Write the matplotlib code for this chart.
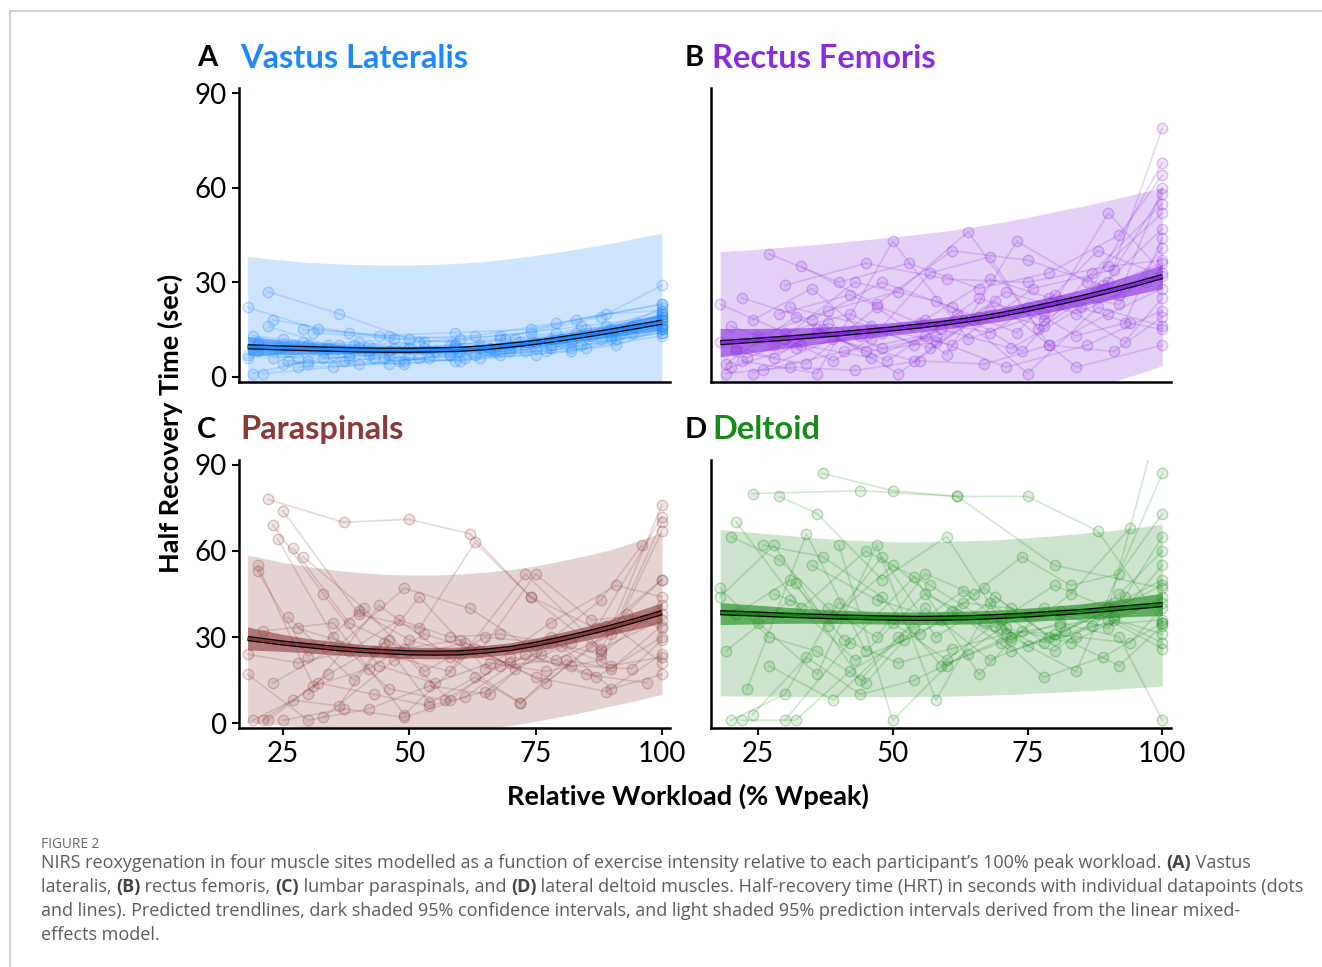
"""Half-recovery time vs relative workload for four muscle sites."""

import matplotlib.pyplot as plt
from matplotlib.lines import Line2D
from matplotlib.colors import to_rgb

plt.rcParams["font.family"] = ["Lato", "DejaVu Sans"]

# model curves are read at these workloads
FIT_X = [18, 25, 30, 35, 40, 45, 50, 55, 60, 65, 70, 75, 80, 85, 90, 95, 100]

# ---- A: vastus lateralis
VL_FIT = [9.5, 9.1, 8.9, 8.7, 8.5, 8.4, 8.4, 8.5, 8.7, 9.2, 10.0, 10.9, 12.0, 13.2, 14.5, 15.9, 17.3]
VL_CI_LO = [6.8, 7.0, 7.1, 7.2, 7.3, 7.4, 7.4, 7.5, 7.7, 8.2, 8.8, 9.6, 10.6, 11.6, 12.6, 13.7, 14.8]
VL_CI_HI = [12.8, 11.6, 10.9, 10.3, 9.8, 9.6, 9.5, 9.6, 9.8, 10.3, 11.2, 12.3, 13.5, 14.9, 16.4, 18.1, 19.9]
VL_PI_LO = [-19, -19.3, -19.5, -19.5, -19.5, -19.5, -19.5, -19.3, -19, -18.6, -18, -17, -16, -15, -14, -12.5, -11]
VL_PI_HI = [38.2, 37.0, 36.3, 35.9, 35.6, 35.5, 35.5, 35.7, 36.0, 36.6, 37.5, 38.5, 39.7, 41.0, 42.4, 44.0, 45.6]
VL_X = [
    [18, 32, 46, 60, 74, 88, 100], [22, 36, 50, 64, 78, 92, 100],
    [19, 30, 42, 54, 66, 78, 90, 100], [21, 35, 49, 63, 77, 91, 100],
    [23, 38, 53, 68, 83, 100], [20, 33, 46, 59, 72, 85, 100],
    [25, 40, 55, 70, 85, 100], [26, 40, 54, 68, 82, 100],
    [18, 28, 38, 48, 58, 68, 78, 88, 100], [29, 44, 59, 74, 89, 100],
    [22, 34, 46, 58, 70, 82, 94, 100], [27, 43, 59, 75, 91, 100],
    [31, 47, 63, 79, 100], [20, 31, 42, 53, 64, 75, 86, 100],
    [33, 50, 67, 84, 100], [25, 37, 49, 61, 73, 85, 100],
    [19, 29, 39, 49, 59, 69, 79, 89, 100], [28, 46, 64, 82, 100],
    [23, 35, 47, 59, 71, 83, 95], [36, 52, 68, 84, 100],
    [18, 26, 34, 42, 50, 58, 66, 74, 82, 90, 100], [20, 30, 40, 50, 60, 70, 80, 90, 100],
    [24, 38, 52, 66, 80, 94, 100], [30, 45, 60, 75, 90, 100],
]
VL_Y = [
    [22, 15, 13, 12, 14, 19, 29], [27, 20, 12, 10, 12, 14, 18],
    [1, 5, 7, 8, 9, 10, 13, 17], [1, 3, 5, 7, 8, 12, 15],
    [18, 14, 11, 12, 18, 23], [8, 8, 7, 9, 11, 15, 19],
    [12, 9, 8, 10, 13, 16], [5, 4, 6, 7, 9, 14],
    [7, 6, 6, 5, 7, 8, 9, 12, 16], [15, 13, 14, 15, 20, 21],
    [16, 10, 8, 7, 8, 11, 14, 18], [10, 6, 5, 7, 10, 15],
    [14, 12, 13, 17, 23], [10, 9, 10, 9, 9, 11, 13, 20],
    [6, 7, 8, 10, 14], [4, 5, 4, 6, 8, 9, 13],
    [13, 11, 10, 9, 10, 12, 14, 16, 21], [3, 4, 6, 8, 15],
    [6, 7, 9, 10, 12, 14, 17], [10, 11, 13, 16, 19],
    [6, 8, 9, 8, 9, 10, 9, 11, 12, 15, 18], [11, 10, 11, 9, 8, 9, 11, 14, 22],
    [9, 7, 6, 8, 12, 16, 20], [4, 6, 5, 9, 12, 16],
]

# ---- B: rectus femoris
RF_FIT = [10.8, 11.6, 12.2, 12.9, 13.6, 14.4, 15.2, 16.1, 17.1, 18.3, 19.7, 21.4, 23.2, 25.1, 27.2, 29.4, 31.8]
RF_CI_LO = [6.3, 7.9, 9.0, 10.2, 11.2, 12.2, 13.2, 14.2, 15.2, 16.3, 17.6, 19.1, 20.8, 22.5, 24.3, 26.1, 28.0]
RF_CI_HI = [15.3, 15.3, 15.4, 15.6, 16.0, 16.6, 17.2, 18.0, 19.0, 20.3, 21.8, 23.7, 25.6, 27.7, 30.1, 32.7, 35.6]
RF_PI_LO = [-18, -17.3, -16.8, -16.2, -15.5, -14.8, -14, -13, -12, -10.8, -9.5, -7.8, -6, -4, -2, 0.6, 3.5]
RF_PI_HI = [39.7, 40.5, 41.2, 41.9, 42.7, 43.5, 44.4, 45.3, 46.3, 47.6, 49.0, 50.6, 52.4, 54.1, 56.0, 58.0, 60.2]
RF_X = [
    [18, 30, 42, 54, 66, 78, 90, 100], [20, 33, 46, 59, 72, 85, 100],
    [27, 40, 53, 66, 79, 92, 100], [22, 36, 50, 64, 78, 92, 100],
    [25, 38, 51, 64, 77, 90, 100], [19, 31, 43, 55, 67, 79, 91, 100],
    [24, 35, 46, 57, 68, 79, 90, 100], [21, 34, 47, 60, 73, 86, 100],
    [30, 45, 60, 75, 90, 100], [23, 37, 51, 65, 79, 93, 100],
    [18, 28, 38, 48, 58, 68, 78, 88, 100], [26, 41, 56, 71, 86, 100],
    [29, 42, 55, 68, 81, 94, 100], [20, 32, 44, 56, 68, 80, 92, 100],
    [33, 47, 61, 75, 89, 100], [24, 39, 54, 69, 84, 100],
    [22, 35, 48, 61, 74, 87, 100], [28, 43, 58, 73, 88, 100],
    [19, 32, 45, 58, 71, 84, 97], [36, 49, 62, 75, 88, 100],
    [21, 30, 39, 48, 57, 66, 75, 84, 93, 100], [31, 46, 61, 76, 91, 100],
]
RF_Y = [
    [23, 14, 20, 10, 25, 18, 30, 79], [3, 10, 6, 15, 9, 22, 68],
    [39, 30, 36, 28, 33, 45, 64], [5, 1, 43, 12, 20, 26, 60],
    [13, 21, 27, 46, 15, 52, 33], [1, 3, 2, 5, 4, 10, 8, 19],
    [18, 28, 12, 33, 38, 10, 20, 28], [8, 4, 22, 7, 43, 30, 52],
    [29, 36, 31, 30, 35, 37], [6, 15, 1, 18, 25, 11, 25],
    [11, 6, 17, 9, 13, 21, 16, 28, 36], [2, 8, 13, 3, 10, 21],
    [20, 26, 17, 31, 24, 17, 15], [16, 9, 13, 18, 14, 26, 23, 41],
    [35, 23, 40, 37, 29, 47], [1, 12, 5, 24, 3, 10],
    [25, 18, 30, 22, 8, 33, 55], [10, 30, 24, 14, 40, 32],
    [4, 19, 8, 11, 27, 20, 30], [15, 5, 20, 1, 22, 16],
    [9, 12, 5, 14, 9, 19, 22, 13, 17, 44], [22, 16, 10, 28, 34, 58],
]

# ---- C: paraspinals
PS_FIT = [29.5, 27.9, 27.0, 26.1, 25.4, 24.9, 24.5, 24.4, 24.5, 25.1, 26.0, 27.5, 29.3, 31.3, 33.5, 35.9, 38.5]
PS_CI_LO = [25.5, 25.0, 24.5, 23.8, 23.3, 22.9, 22.5, 22.4, 22.5, 23.1, 24.0, 25.4, 27.0, 28.9, 30.8, 32.8, 35.0]
PS_CI_HI = [33.5, 30.9, 29.5, 28.4, 27.5, 26.9, 26.5, 26.4, 26.5, 27.1, 28.0, 29.6, 31.6, 33.7, 36.2, 39.0, 42.0]
PS_PI_LO = [0.3, -0.7, -1.5, -2.1, -2.5, -2.7, -2.8, -2.7, -2.5, -1.8, -0.8, 0.6, 2.3, 4.0, 6.0, 7.9, 10.0]
PS_PI_HI = [58.6, 56.0, 54.5, 53.4, 52.5, 51.9, 51.6, 51.6, 52.0, 52.6, 53.5, 54.8, 56.5, 58.4, 60.5, 63.3, 66.5]
PS_X = [
    [22, 37, 50, 62, 74, 88, 100], [25, 40, 52, 63, 74, 87, 100],
    [23, 33, 44, 55, 66, 77, 88, 100], [24, 35, 46, 57, 68, 79, 90, 100],
    [27, 38, 49, 60, 71, 82, 93, 100], [29, 41, 53, 65, 77, 89, 100],
    [20, 31, 42, 53, 64, 75, 86, 100], [20, 30, 40, 50, 60, 70, 80, 90, 100],
    [19, 27, 36, 45, 54, 63, 72, 81, 90, 100], [21, 32, 43, 54, 65, 76, 87, 100],
    [22, 34, 46, 58, 70, 82, 94, 100], [18, 30, 42, 54, 66, 78, 90, 100],
    [25, 37, 49, 61, 73, 85, 97], [18, 28, 38, 48, 58, 68, 78, 88, 100],
    [26, 39, 52, 65, 78, 91, 100], [30, 44, 58, 72, 86, 100],
    [33, 47, 61, 75, 89, 100], [23, 36, 49, 62, 75, 88, 96],
    [28, 43, 58, 73, 88, 100], [21, 35, 49, 63, 77, 91, 100],
]
PS_Y = [
    [78, 70, 71, 66, 44, 25, 76], [74, 38, 33, 63, 44, 33, 72],
    [69, 45, 20, 14, 21, 18, 22, 67], [64, 30, 12, 8, 20, 22, 31, 70],
    [61, 35, 26, 29, 19, 28, 38, 33], [58, 40, 18, 30, 28, 34, 50],
    [55, 13, 19, 31, 25, 52, 36, 38], [53, 23, 39, 29, 24, 21, 27, 20, 23],
    [1, 8, 6, 28, 7, 16, 7, 22, 19, 34], [1, 14, 10, 6, 11, 24, 16, 30],
    [1, 17, 29, 8, 23, 20, 19, 29], [17, 1, 5, 13, 10, 30, 12, 17],
    [1, 5, 2, 9, 24, 17, 14], [24, 21, 25, 36, 30, 31, 28, 24, 41],
    [37, 15, 44, 19, 35, 48, 44], [10, 41, 23, 7, 27, 50],
    [2, 22, 28, 16, 11, 24], [14, 27, 47, 40, 25, 43, 62],
    [33, 25, 18, 52, 26, 36], [32, 35, 3, 26, 14, 33, 21],
]

# ---- D: deltoid
DT_FIT = [38.5, 38.0, 37.6, 37.3, 37.0, 36.8, 36.6, 36.5, 36.6, 36.8, 37.2, 37.7, 38.3, 38.9, 39.7, 40.5, 41.3]
DT_CI_LO = [34.3, 34.6, 34.8, 34.8, 34.7, 34.6, 34.5, 34.4, 34.4, 34.6, 35.0, 35.4, 35.9, 36.3, 36.8, 37.2, 37.5]
DT_CI_HI = [42.0, 41.1, 40.4, 39.8, 39.4, 39.0, 38.8, 38.7, 38.9, 39.1, 39.5, 40.1, 40.8, 41.6, 42.6, 43.9, 45.3]
DT_PI_LO = [9.5, 9.4, 9.3, 9.2, 9.2, 9.2, 9.2, 9.3, 9.4, 9.6, 9.9, 10.3, 10.7, 11.2, 11.7, 12.3, 12.9]
DT_PI_HI = [67.5, 66.3, 65.5, 64.7, 64.0, 63.5, 63.2, 63.2, 63.3, 63.6, 64.0, 64.6, 65.3, 66.1, 67.0, 68.1, 69.3]
DT_X = [
    [37, 50, 62, 75, 88, 100], [24, 44, 62, 80, 100],
    [29, 36, 48, 60, 72, 84, 100], [20, 29, 38, 47, 56, 65, 74, 83, 92, 100],
    [18, 27, 36, 45, 54, 63, 72, 81, 90, 100], [20, 30, 40, 50, 60, 70, 80, 90, 100],
    [22, 32, 42, 52, 62, 72, 82, 92, 100], [24, 34, 44, 54, 64, 74, 84, 94, 100],
    [26, 37, 48, 59, 70, 81, 92, 100], [18, 28, 38, 48, 58, 68, 78, 88, 100],
    [21, 33, 45, 57, 69, 81, 93, 100], [23, 34, 45, 56, 67, 78, 89, 100],
    [30, 42, 54, 66, 78, 90, 100], [19, 31, 43, 55, 67, 79, 91, 100],
    [27, 39, 51, 63, 75, 87, 100], [35, 47, 59, 71, 83, 100],
    [25, 36, 47, 58, 69, 80, 91, 100], [32, 44, 56, 68, 80, 92, 100],
    [21, 31, 41, 51, 61, 71, 81, 91, 100], [40, 50, 60, 70, 80, 90, 100],
    [28, 39, 50, 61, 72, 83, 94],
]
DT_Y = [
    [87, 81, 79, 79, 67, 35], [80, 81, 79, 55, 47],
    [79, 73, 50, 65, 30, 18, 87], [65, 57, 40, 30, 52, 45, 58, 48, 52, 73],
    [47, 30, 25, 14, 33, 42, 40, 38, 33, 55], [1, 10, 42, 35, 22, 36, 48, 40, 50],
    [1, 1, 18, 29, 38, 25, 32, 45, 60], [3, 23, 10, 15, 24, 32, 30, 28, 40],
    [62, 58, 44, 20, 28, 35, 30, 1], [44, 62, 34, 58, 30, 42, 28, 38, 31],
    [70, 40, 60, 48, 34, 39, 44, 65], [12, 66, 25, 45, 35, 16, 23, 35],
    [1, 28, 51, 17, 40, 36, 26], [25, 43, 22, 31, 47, 30, 40, 48],
    [20, 8, 30, 46, 27, 34, 36], [55, 43, 36, 33, 28, 44],
    [35, 17, 62, 8, 44, 29, 36, 28], [49, 15, 40, 22, 31, 20, 34],
    [38, 50, 29, 21, 26, 31, 34, 37, 42], [62, 1, 20, 33, 25, 40, 110],
    [45, 37, 55, 39, 29, 45, 68],
]

W, H = 1322, 967


def fx(px):
    return px / W


def fy(py):
    return 1 - py / H


def draw_panel(ax, color, xs, ys, fit, ci_lo, ci_hi, pi_lo, pi_hi):
    r, g, b = to_rgb(color)
    ax.fill_between(FIT_X, pi_lo, pi_hi, color=(r, g, b, 0.22), lw=0, zorder=1)
    for x, y in zip(xs, ys):
        ax.plot(x, y, color=(r, g, b, 0.2), lw=1.2, marker="o", ms=7.5,
                mfc=(r, g, b, 0.12), mec=(r, g, b, 0.28), mew=1.0, zorder=2)
    ax.fill_between(FIT_X, ci_lo, ci_hi, color=(r, g, b, 0.6), lw=0, zorder=3)
    ax.plot(FIT_X, fit, color="black", lw=3.8, solid_capstyle="butt", zorder=4)
    ax.plot(FIT_X, fit, color=color, lw=2.0, solid_capstyle="butt", zorder=5)
    ax.set_xlim(16.3, 101.6)
    ax.set_ylim(-1.7, 91.7)
    for s in ("top", "right"):
        ax.spines[s].set_visible(False)
    for s in ("left", "bottom"):
        ax.spines[s].set_linewidth(1.8)
    ax.set_xticks([25, 50, 75, 100])
    ax.set_yticks([0, 30, 60, 90])
    ax.tick_params(labelsize=20, length=5, width=1.5, pad=4)
    ax.set_facecolor("none")


fig = plt.figure(figsize=(W / 100, H / 100), dpi=100)

panels = [
    ("A", "Vastus Lateralis", "#1E88FF", VL_X, VL_Y, VL_FIT, VL_CI_LO, VL_CI_HI, VL_PI_LO, VL_PI_HI,
     (239, 88, 670, 382), True, False),
    ("B", "Rectus Femoris", "#8A2BE2", RF_X, RF_Y, RF_FIT, RF_CI_LO, RF_CI_HI, RF_PI_LO, RF_PI_HI,
     (711, 88, 1171, 382), False, False),
    ("C", "Paraspinals", "#8B3A3A", PS_X, PS_Y, PS_FIT, PS_CI_LO, PS_CI_HI, PS_PI_LO, PS_PI_HI,
     (239, 460, 670, 728), True, True),
    ("D", "Deltoid", "#178A17", DT_X, DT_Y, DT_FIT, DT_CI_LO, DT_CI_HI, DT_PI_LO, DT_PI_HI,
     (711, 460, 1171, 728), False, True),
]

for letter, name, color, xs, ys, fit, cl, ch, pl, ph, box, show_y, show_x in panels:
    x0, y0, x1, y1 = box
    ax = fig.add_axes([fx(x0), fy(y1), fx(x1) - fx(x0), fy(y0) - fy(y1)])
    draw_panel(ax, color, xs, ys, fit, cl, ch, pl, ph)
    if not show_y:
        ax.tick_params(axis="y", left=False, labelleft=False)
    if not show_x:
        ax.tick_params(axis="x", bottom=False, labelbottom=False)
    ty = y0 - 30
    lx = x0 - 42 if show_y else x0 - 26
    fig.text(fx(lx), fy(ty), letter, fontsize=21, fontweight="bold",
             color="black", ha="left", va="center")
    fig.text(fx(x0 + 1), fy(ty), name, fontsize=23.5, fontweight="bold",
             color=color, ha="left", va="center")

fig.text(fx(170), fy(423), "Half Recovery Time (sec)", rotation=90,
         fontsize=19.5, fontweight="bold", ha="center", va="center")
fig.text(fx(688), fy(796), "Relative Workload (% Wpeak)",
         fontsize=19.5, fontweight="bold", ha="center", va="center")

# page frame
fig.add_artist(Line2D([fx(10), 1], [fy(11), fy(11)], transform=fig.transFigure,
                      color="#c8c8c8", lw=1.2))
fig.add_artist(Line2D([fx(10), fx(10)], [fy(11), 0], transform=fig.transFigure,
                      color="#c8c8c8", lw=1.2))

# caption
CAP_FONT = ["Open Sans", "DejaVu Sans"]
CAP_SIZE = 12.95
fig.text(fx(41), fy(845), "FIGURE 2", fontsize=9.8, color="#666666",
         family=CAP_FONT, ha="left", va="center")

caption_lines = [
    [("NIRS reoxygenation in four muscle sites modelled as a function of exercise intensity "
      "relative to each participant\u2019s 100% peak workload. ", "normal"),
     ("(A)", "bold"), (" Vastus", "normal")],
    [("lateralis, ", "normal"), ("(B)", "bold"), (" rectus femoris, ", "normal"),
     ("(C)", "bold"), (" lumbar paraspinals, and ", "normal"), ("(D)", "bold"),
     (" lateral deltoid muscles. Half-recovery time (HRT) in seconds with individual "
      "datapoints (dots", "normal")],
    [("and lines). Predicted trendlines, dark shaded 95% confidence intervals, and light "
      "shaded 95% prediction intervals derived from the linear mixed-", "normal")],
    [("effects model.", "normal")],
]

renderer = fig.canvas.get_renderer()


def text_width(s, weight):
    a = fig.text(0, 0, "|" + s + "|", fontsize=CAP_SIZE, fontweight=weight, family=CAP_FONT)
    b = fig.text(0, 0, "||", fontsize=CAP_SIZE, fontweight=weight, family=CAP_FONT)
    w = a.get_window_extent(renderer).width - b.get_window_extent(renderer).width
    a.remove()
    b.remove()
    return w


for i, runs in enumerate(caption_lines):
    xp = 41
    yp = 863 + 24 * i
    for s, weight in runs:
        fig.text(fx(xp), fy(yp), s, fontsize=CAP_SIZE, fontweight=weight,
                 family=CAP_FONT, color="#444444" if weight == "bold" else "#5c5c5c",
                 ha="left", va="center")
        xp += text_width(s, weight)

fig.savefig("out.png", dpi=100)
